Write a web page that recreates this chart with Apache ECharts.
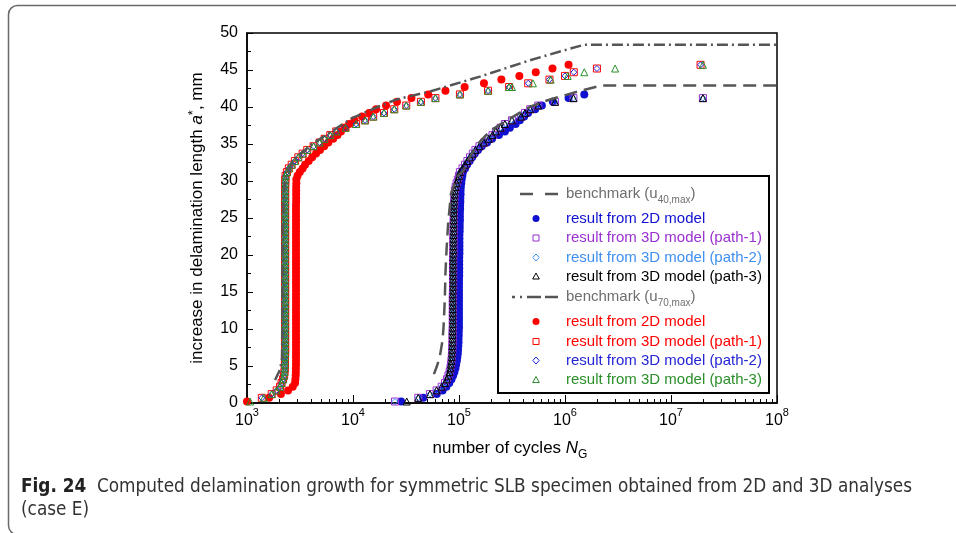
<!DOCTYPE html>
<html><head><meta charset="utf-8">
<script src="https://cdn.jsdelivr.net/npm/echarts@6.0.0/dist/echarts.min.js"></script>
<style>html,body{margin:0;padding:0;background:#fff}#c{width:956px;height:533px}</style>
</head><body><div id="c"></div>
<script>
// ---------- tick labels ----------
const xExponents = [3, 4, 5, 6, 7, 8];
const yTickValues = [0, 5, 10, 15, 20, 25, 30, 35, 40, 45, 50];

// ---------- benchmark curves [N, a*] ----------
const bench40 = [[58000,3.9],[62000,5],[66000,6.3],[70000,8.5],[71500,10.3],[73500,14],[74500,17.6],[76500,21],[79000,24.3],[84000,28.3],[96000,30.6],[110000,31.4],[124000,33],[150000,35],[180000,36.2],[218000,37.2],[316000,38.6],[465000,40],[650000,40.8],[897000,41.4],[1330000,42.1],[2190000,42.9],[100000000,42.9]];
const bench70 = [[1840,3.1],[2050,4.5],[2140,6],[2150,10],[2160,20],[2180,25],[2230,28.5],[2330,31],[2840,33],[4100,35],[6760,37],[9800,38.5],[17700,40.1],[25500,41],[53200,42.1],[157000,44.1],[465000,46.3],[897000,47.5],[1500000,48.4],[100000000,48.4]];

// ---------- u40,max results ----------
const blue2D = [[28400,0.2],[46000,0.7],[61700,1.2],[70000,1.7],[76000,2.2],[81000,2.7],[85000,3.2],[88000,3.7],[90500,4.2],[92500,4.7],[94000,5.2],[95500,5.7],[96500,6.2],[97500,6.7],[98000,7.2],[98500,7.7],[99000,8.2],[99000,8.7],[99500,9.2],[99500,9.7],[100000,10.2],[100000,10.7],[100000,11.2],[100000,11.7],[100000,12.2],[100000,12.7],[100000,13.2],[100000,13.7],[100000,14.2],[100000,14.7],[100000,15.2],[100000,15.7],[100000,16.2],[100000,16.7],[100500,17.2],[100500,17.7],[100500,18.2],[100500,18.7],[100500,19.2],[100500,19.7],[101000,20.2],[101000,20.7],[101000,21.2],[101000,21.7],[101000,22.2],[101000,22.7],[101500,23.2],[101500,23.7],[101500,24.2],[102000,24.7],[102000,25.2],[102000,25.7],[102500,26.2],[102500,26.7],[103000,27.2],[103000,27.7],[103500,28.2],[103500,28.7],[104000,29.2],[105000,29.7],[106000,30.2],[107500,30.7],[109000,31.2],[114000,31.7],[119000,32.2],[126000,32.7],[133000,33.2],[141000,33.7],[151000,34.2],[164000,34.7],[184000,35.2],[205000,35.7],[238000,36.2],[271000,36.7],[302000,37.2],[342000,37.7],[375000,38.2],[412000,38.7],[448000,39.2],[523000,39.7],[605000,40.2],[769000,40.7],[1080000,41.2],[1520000,41.7]];
const path1_40 = [[24900,0.2],[41300,0.7],[53200,1.2],[61500,1.7],[68700,2.2],[73800,2.7],[77000,3.2],[79500,3.7],[81500,4.2],[83000,4.7],[84000,5.2],[85000,5.7],[85500,6.2],[86000,6.7],[86500,7.2],[86500,7.7],[87000,8.2],[87000,8.7],[87000,9.2],[87000,9.7],[87500,10.2],[87500,10.7],[87500,11.2],[87500,11.7],[87500,12.2],[87500,12.7],[87500,13.2],[87500,13.7],[87500,14.2],[87500,14.7],[88000,15.2],[88000,15.7],[88000,16.2],[88000,16.7],[88000,17.2],[88000,17.7],[88000,18.2],[88000,18.7],[88000,19.2],[88000,19.7],[88500,20.2],[88500,20.7],[88500,21.2],[88500,21.7],[88500,22.2],[88500,22.7],[89000,23.2],[89000,23.7],[89000,24.2],[89000,24.7],[89500,25.2],[89500,25.7],[89500,26.2],[90000,26.7],[90000,27.2],[90500,27.7],[91000,28.2],[91500,28.7],[93000,29.2],[95000,29.7],[97500,30.2],[100000,30.7],[102000,31.2],[108000,31.7],[114000,32.2],[120000,32.7],[127000,33.2],[135000,33.7],[143000,34.2],[156000,34.7],[172000,35.2],[191000,35.7],[207000,36.2],[223000,36.7],[247000,37.2],[271000,37.7],[316000,38.2],[385000,38.7],[420000,39.2],[470000,39.7],[560000,40.2],[803000,40.7],[1200000,41.2],[20000000,41.2]];
const path2_40 = path1_40;
const path3_40 = [[32100,0.2]].concat(path1_40.slice(1));

// ---------- u70,max results ----------
const red2D = [[1000,0.2],[1620,0.7],[2090,1.2],[2440,1.7],[2700,2.2],[2840,2.7],[2860,3.2],[2880,3.7],[2890,4.2],[2890,4.7],[2900,5.2],[2900,5.7],[2900,6.2],[2900,6.7],[2900,7.2],[2900,7.7],[2900,8.2],[2900,8.7],[2900,9.2],[2900,9.7],[2900,10.2],[2900,10.7],[2900,11.2],[2900,11.7],[2900,12.2],[2900,12.7],[2900,13.2],[2900,13.7],[2900,14.2],[2900,14.7],[2900,15.2],[2900,15.7],[2900,16.2],[2900,16.7],[2900,17.2],[2900,17.7],[2900,18.2],[2900,18.7],[2900,19.2],[2900,19.7],[2900,20.2],[2900,20.7],[2900,21.2],[2900,21.7],[2900,22.2],[2900,22.7],[2900,23.2],[2900,23.7],[2900,24.2],[2900,24.7],[2900,25.2],[2900,25.7],[2900,26.2],[2900,26.7],[2910,27.2],[2910,27.7],[2910,28.2],[2910,28.7],[2910,29.2],[2920,29.7],[2920,30.2],[3000,30.7],[3150,31.2],[3350,31.7],[3530,32.2],[3820,32.7],[4120,33.2],[4480,33.7],[4880,34.2],[5350,34.7],[5850,35.2],[6500,35.7],[7150,36.2],[7700,36.7],[8400,37.2],[9200,37.7],[10300,38.2],[12170,38.7],[14200,39.2],[16500,39.7],[20500,40.2],[26000,40.7],[35600,41.2],[51200,41.7],[74500,42.2],[113000,42.7],[172000,43.2],[251000,43.7],[371000,44.2],[530000,44.7],[762000,45.2],[1080000,45.7]];
const path1_70 = [[1380,0.7],[1710,1.2],[1906,1.7],[2050,2.2],[2120,2.7],[2190,3.2],[2240,3.7],[2260,4.2],[2270,4.7],[2280,5.2],[2280,5.7],[2280,6.2],[2290,6.7],[2290,7.2],[2290,7.7],[2290,8.2],[2290,8.7],[2290,9.2],[2290,9.7],[2290,10.2],[2290,10.7],[2290,11.2],[2290,11.7],[2290,12.2],[2290,12.7],[2290,13.2],[2290,13.7],[2290,14.2],[2290,14.7],[2290,15.2],[2290,15.7],[2290,16.2],[2290,16.7],[2290,17.2],[2290,17.7],[2290,18.2],[2290,18.7],[2290,19.2],[2290,19.7],[2290,20.2],[2290,20.7],[2290,21.2],[2290,21.7],[2290,22.2],[2290,22.7],[2290,23.2],[2290,23.7],[2290,24.2],[2290,24.7],[2290,25.2],[2290,25.7],[2290,26.2],[2290,26.7],[2290,27.2],[2290,27.7],[2290,28.2],[2290,28.7],[2290,29.2],[2300,29.7],[2300,30.2],[2310,30.7],[2380,31.2],[2480,31.7],[2640,32.2],[2830,32.7],[3050,33.2],[3350,33.7],[3700,34.2],[4250,34.7],[4850,35.2],[5400,35.7],[6100,36.2],[6950,36.7],[8500,37.2],[10700,37.7],[13000,38.2],[15500,38.7],[19600,39.2],[24500,39.7],[31800,40.2],[43700,40.7],[59900,41.2],[102000,41.7],[188000,42.2],[297000,42.7],[450000,43.2],[714000,43.7],[1000000,44.2],[1210000,44.7],[2000000,45.2],[19000000,45.7]];
const path2_70 = path1_70;
const path3_70 = [[1070,0.2],[1440,0.7]].concat(path1_70.slice(1, 85)).concat([[316000,42.7],[498000,43.2],[733000,43.7],[1060000,44.2],[1520000,44.7],[2970000,45.2],[20000000,45.7]]);

// ---------- styling ----------
const FONT = '"Liberation Sans", Arial, Helvetica, sans-serif';
const C = {
  bench: '#555555', benchText: '#6e6e6e',
  blue2D: '#1010d0', purple: '#9a30d0', lightBlue: '#3f8ff2', black: '#000000',
  red: '#ff0000', blue70: '#2424d6', green: '#2a8f2a'
};

const minorX = [];
for (let e = xExponents[0]; e < xExponents[xExponents.length - 1]; e++) {
  for (let m = 2; m <= 9; m++) minorX.push(e + Math.log10(m));
}

function scat(name, data, symbol, size, color, filled) {
  return {
    name, type: 'scatter', data, symbol, symbolSize: size, clip: false, silent: true,
    xAxisIndex: 0, yAxisIndex: 0,
    itemStyle: filled ? { color, opacity: 1 } : { color: 'rgba(255,255,255,0)', borderColor: color, borderWidth: 1, opacity: 1 }
  };
}
function bline(name, data, dash) {
  return {
    name, type: 'line', data, showSymbol: false, symbol: 'none', silent: true, clip: true,
    xAxisIndex: 0, yAxisIndex: 0,
    lineStyle: { color: C.bench, width: 2.5, type: dash }
  };
}

// ---------- legend (drawn) ----------
const LX = 536, TX = 566;
const legendRows = [
  { y: 194, kind: 'dash', text: '{t|benchmark (u}{s|40,max}{t|)}', color: C.benchText },
  { y: 218.5, kind: 'circle', text: 'result from 2D model', color: C.blue2D },
  { y: 238, kind: 'rect', text: 'result from 3D model (path-1)', color: C.purple },
  { y: 257.5, kind: 'diamond', text: 'result from 3D model (path-2)', color: C.lightBlue },
  { y: 276.5, kind: 'triangle', text: 'result from 3D model (path-3)', color: C.black },
  { y: 297, kind: 'dashdot', text: '{t|benchmark (u}{s|70,max}{t|)}', color: C.benchText },
  { y: 321.5, kind: 'circle', text: 'result from 2D model', color: C.red },
  { y: 341.5, kind: 'rect', text: 'result from 3D model (path-1)', color: C.red },
  { y: 360.5, kind: 'diamond', text: 'result from 3D model (path-2)', color: C.blue70 },
  { y: 380, kind: 'triangle', text: 'result from 3D model (path-3)', color: C.green }
];
const g = [];
// outer figure frame
g.push({ type: 'rect', z: 0, shape: { x: 8.5, y: 5.5, width: 1000, height: 529, r: 9 }, style: { fill: 'none', stroke: '#6a6a6a', lineWidth: 1.5 } });
// legend box
g.push({ type: 'rect', z: 50, shape: { x: 498, y: 176, width: 271, height: 217 }, style: { fill: '#fff', stroke: '#000', lineWidth: 2 } });
const lineSt = { stroke: C.bench, lineWidth: 2.5 };
legendRows.forEach(r => {
  const y = r.y, col = r.color;
  if (r.kind === 'dash') {
    g.push({ type: 'line', z: 51, shape: { x1: 520, y1: y, x2: 533, y2: y }, style: lineSt });
    g.push({ type: 'line', z: 51, shape: { x1: 545, y1: y, x2: 558, y2: y }, style: lineSt });
  } else if (r.kind === 'dashdot') {
    g.push({ type: 'line', z: 51, shape: { x1: 512, y1: y, x2: 515, y2: y }, style: lineSt });
    g.push({ type: 'line', z: 51, shape: { x1: 520, y1: y, x2: 522, y2: y }, style: lineSt });
    g.push({ type: 'line', z: 51, shape: { x1: 527, y1: y, x2: 541, y2: y }, style: lineSt });
    g.push({ type: 'line', z: 51, shape: { x1: 545, y1: y, x2: 558, y2: y }, style: lineSt });
  } else if (r.kind === 'circle') {
    g.push({ type: 'circle', z: 51, shape: { cx: LX, cy: y, r: 3.5 }, style: { fill: col } });
  } else if (r.kind === 'rect') {
    g.push({ type: 'rect', z: 51, shape: { x: LX - 3, y: y - 3, width: 6, height: 6 }, style: { fill: 'none', stroke: col, lineWidth: 1 } });
  } else if (r.kind === 'diamond') {
    g.push({ type: 'polygon', z: 51, shape: { points: [[LX, y - 3.5], [LX + 3.2, y], [LX, y + 3.5], [LX - 3.2, y]] }, style: { fill: 'none', stroke: col, lineWidth: 1 } });
  } else {
    g.push({ type: 'polygon', z: 51, shape: { points: [[LX, y - 3.5], [LX + 3.3, y + 2.5], [LX - 3.3, y + 2.5]] }, style: { fill: 'none', stroke: col, lineWidth: 1 } });
  }
  g.push({ type: 'text', z: 51, x: TX, y: y, style: {
    text: r.text.indexOf('{') === 0 ? r.text : '{t|' + r.text + '}', fill: col, align: 'left', verticalAlign: 'middle',
    fontFamily: FONT, fontSize: 15,
    rich: { t: { fontSize: 15, lineHeight: 22, fontFamily: FONT }, s: { fontSize: 10, lineHeight: 10, verticalAlign: 'bottom', fontFamily: FONT } }
  } });
});
// axis titles
g.push({ type: 'text', z: 10, x: 197, y: 218, rotation: Math.PI / 2, style: {
  text: '{t|increase in delamination length }{i|a}{p|*}{t|, mm}', fill: '#000', align: 'center', verticalAlign: 'middle', fontFamily: FONT,
  rich: { t: { fontSize: 17, lineHeight: 20, fontFamily: FONT }, i: { fontSize: 17, lineHeight: 20, fontStyle: 'italic', fontFamily: FONT }, p: { fontSize: 13, lineHeight: 16, verticalAlign: 'top', fontFamily: FONT } }
} });
g.push({ type: 'text', z: 10, x: 510, y: 448, style: {
  text: '{t|number of cycles }{i|N}{s|G}', fill: '#000', align: 'center', verticalAlign: 'middle', fontFamily: FONT,
  rich: { t: { fontSize: 17, lineHeight: 26, fontFamily: FONT }, i: { fontSize: 17, lineHeight: 26, fontStyle: 'italic', fontFamily: FONT }, s: { fontSize: 12, lineHeight: 12, verticalAlign: 'bottom', fontFamily: FONT } }
} });
// caption
const CAPF = '"Liberation Sans Narrow", "DejaVu Sans Condensed", "Open Sans", sans-serif';
g.push({ type: 'text', z: 10, x: 21, y: 487, style: {
  text: '{b|Fig. 24}{n|  Computed delamination growth for symmetric SLB specimen obtained from 2D and 3D analyses}', fill: '#222', align: 'left', verticalAlign: 'middle',
  rich: { b: { fontSize: 18.8, fontWeight: 'bold', fontFamily: CAPF, fill: '#222' }, n: { fontSize: 18.8, fontFamily: CAPF, fill: '#333' } }
} });
g.push({ type: 'text', z: 10, x: 21, y: 510, style: { text: '(case E)', fill: '#333', align: 'left', verticalAlign: 'middle', fontSize: 18.8, fontFamily: CAPF } });

const chart = echarts.init(document.getElementById('c'), null, { renderer: 'canvas' });
chart.setOption({
  animation: false,
  backgroundColor: '#fff',
  grid: { left: 247, top: 33, width: 530, height: 370, show: true, borderColor: '#000', borderWidth: 1.5, backgroundColor: 'rgba(0,0,0,0)' },
  xAxis: [
    { type: 'log', logBase: 10, min: Math.pow(10, xExponents[0]), max: Math.pow(10, xExponents[xExponents.length - 1]), position: 'bottom',
      axisLine: { show: true, lineStyle: { color: '#000', width: 1.5 } },
      axisTick: { show: true, inside: true, length: 8, lineStyle: { color: '#000', width: 1 } },
      splitLine: { show: false },
      axisLabel: { margin: 4, color: '#000', fontFamily: FONT,
        formatter: v => '{b|10}{sup|' + Math.round(Math.log10(v)) + '}',
        rich: { b: { fontSize: 16, lineHeight: 28, fontFamily: FONT, color: '#000' }, sup: { fontSize: 11, lineHeight: 11, verticalAlign: 'top', fontFamily: FONT, color: '#000' } } } },
    { type: 'value', min: xExponents[0], max: xExponents[xExponents.length - 1], position: 'bottom',
      axisLine: { show: false }, axisLabel: { show: false }, splitLine: { show: false },
      axisTick: { show: true, inside: true, length: 4, customValues: minorX, lineStyle: { color: '#000', width: 1 } } }
  ],
  yAxis: {
    type: 'value', min: yTickValues[0], max: yTickValues[yTickValues.length - 1], interval: 5,
    axisLine: { show: true, lineStyle: { color: '#000', width: 1.5 } },
    axisTick: { show: true, inside: true, length: 6, lineStyle: { color: '#000', width: 1 } },
    minorTick: { show: true, splitNumber: 2, length: 4, lineStyle: { color: '#000', width: 1 } },
    splitLine: { show: false },
    axisLabel: { margin: 9, fontSize: 16, color: '#000', fontFamily: FONT }
  },
  graphic: { elements: g },
  series: [
    bline('benchmark (u40,max)', bench40, [13, 7]),
    scat('2D u40', blue2D, 'circle', 8, C.blue2D, true),
    scat('3D path-1 u40', path1_40, 'rect', 7, C.purple, false),
    scat('3D path-2 u40', path2_40, 'diamond', 6, C.lightBlue, false),
    scat('3D path-3 u40', path3_40, 'triangle', 7, C.black, false),
    bline('benchmark (u70,max)', bench70, [11, 4, 2, 4]),
    scat('2D u70', red2D, 'circle', 8, C.red, true),
    scat('3D path-1 u70', path1_70, 'rect', 7, C.red, false),
    scat('3D path-2 u70', path2_70, 'diamond', 6, C.blue70, false),
    scat('3D path-3 u70', path3_70, 'triangle', 7, C.green, false)
  ]
});
</script>
</body></html>
